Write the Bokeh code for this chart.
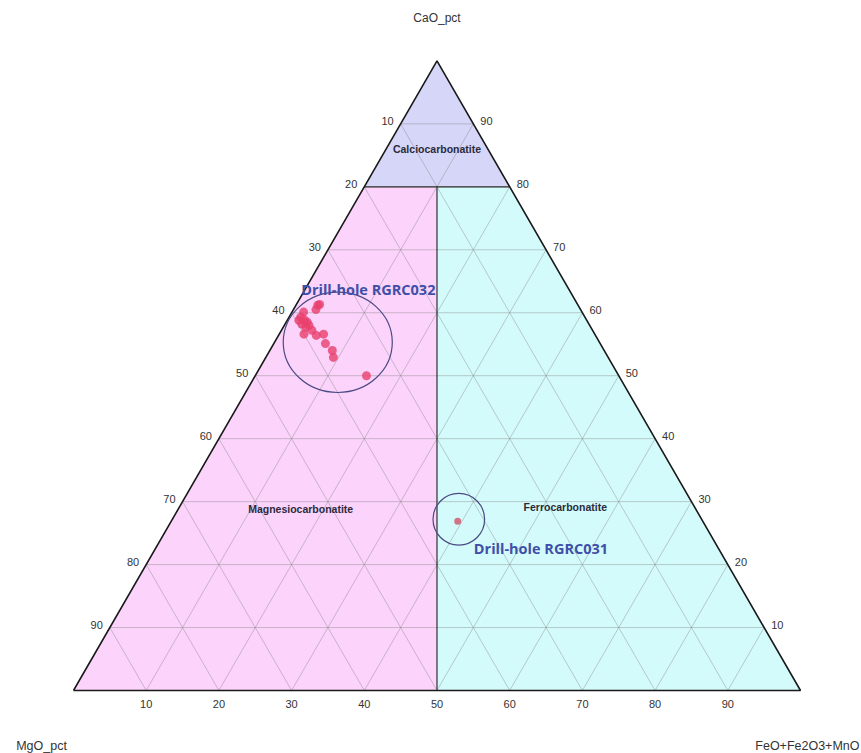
import math
from bokeh.plotting import figure
from bokeh.models import Range1d, ColumnDataSource
from bokeh.core.properties import value
from bokeh.embed import file_html
from bokeh.resources import INLINE

# ---------------- data (ternary %: CaO, MgO, FeO+Fe2O3+MnO) ----------------
rgrc032_cao = [61.2, 60.5, 61.3, 60.1, 59.3, 58.8, 58.5, 58.2, 57.7, 58.0, 57.2, 56.6, 56.4, 56.6, 55.1, 54.0, 52.9, 50.0, 58.8]
rgrc032_feo = [3.0, 3.1, 3.2, 1.6, 1.6, 2.4, 2.9, 2.3, 3.1, 3.4, 4.2, 3.4, 5.2, 6.1, 7.1, 8.6, 9.3, 15.3, 1.6]
rgrc032_mgo = [round(100 - c - f, 1) for c, f in zip(rgrc032_cao, rgrc032_feo)]

rgrc031_cao = [26.9]
rgrc031_feo = [39.4]
rgrc031_mgo = [33.7]

tick_values = [10, 20, 30, 40, 50, 60, 70, 80, 90]

# region boundaries (CaO, FeO)
calcio_cao = [100, 80, 80]
calcio_feo = [0, 0, 20]
magnesio_cao = [0, 0, 80, 80]
magnesio_feo = [0, 50, 10, 0]
ferro_cao = [0, 0, 80, 80]
ferro_feo = [50, 100, 20, 10]

region_names = ["Calciocarbonatite", "Magnesiocarbonatite", "Ferrocarbonatite"]
region_label_cao = [86.0, 28.9, 29.1]
region_label_feo = [7.0, 16.8, 53.1]

hole_names = ["Drill-hole RGRC032", "Drill-hole RGRC031"]
hole_label_cao = [63.7, 22.6]
hole_label_feo = [8.7, 53.0]
hole_circle_cao = [55.3, 27.2]
hole_circle_feo = [8.7, 39.4]
hole_circle_w = [15.0, 7.1]
hole_circle_h = [13.8, 7.1]

H = math.sqrt(3) / 2


def tx(cao, feo):
    return feo + cao / 2.0


def ty(cao):
    return cao * H


S = 7.27  # px per unit
W, HT = 861, 753
p = figure(width=W, height=HT, output_backend="svg", toolbar_location=None,
           x_range=Range1d((0 - 73) / S, (W - 73) / S),
           y_range=Range1d((690 - HT) / S, (690 - 0) / S),
           min_border=0, outline_line_color=None)
p.axis.visible = False
p.grid.visible = False
p.background_fill_color = "white"

# region fills
fills = ["#d6d6f8", "#fbd3fb", "#d4fbfb"]
for cl, fl, col in zip([calcio_cao, magnesio_cao, ferro_cao], [calcio_feo, magnesio_feo, ferro_feo], fills):
    p.patch([tx(c, f) for c, f in zip(cl, fl)], [ty(c) for c in cl], fill_color=col, line_color=None)

# grid lines
gx, gy = [], []
for k in tick_values:
    gx.append([tx(k, 0), tx(k, 100 - k)]); gy.append([ty(k), ty(k)])
    gx.append([tx(100 - k, 0), tx(0, 100 - k)]); gy.append([ty(100 - k), ty(0)])
    gx.append([tx(100 - k, k), tx(0, k)]); gy.append([ty(100 - k), ty(0)])
p.multi_line(gx, gy, line_color="#808080", line_alpha=0.4, line_width=1)

# region boundaries
p.line([tx(80, 0), tx(80, 20)], [ty(80), ty(80)], line_color="#303030", line_width=1.2)
p.line([tx(0, 50), tx(80, 10)], [ty(0), ty(80)], line_color="#303030", line_width=1.2)

# triangle outline
p.line([tx(0, 0), tx(0, 100), tx(100, 0), tx(0, 0)], [ty(0), ty(0), ty(100), ty(0)],
       line_color="#1a1a1a", line_width=1.6)

# tick labels
font = value("Liberation Sans")
tv = [str(v) for v in tick_values]
p.text([tx(100 - v, 0) for v in tick_values], [ty(100 - v) for v in tick_values], text=tv,
       text_align="right", text_baseline="middle", x_offset=-7, y_offset=-3,
       text_font=font, text_font_size="11px", text_color="#333333")
p.text([tx(v, 100 - v) for v in tick_values], [ty(v) for v in tick_values], text=tv,
       text_align="left", text_baseline="middle", x_offset=7, y_offset=-3,
       text_font=font, text_font_size="11px", text_color="#333333")
p.text([tx(0, v) for v in tick_values], [0] * len(tick_values), text=tv,
       text_align="center", text_baseline="middle", y_offset=13,
       text_font=font, text_font_size="11px", text_color="#333333")

# axis titles
p.text([tx(100, 0)], [ty(100)], text=["CaO_pct"], text_align="center", text_baseline="middle",
       y_offset=-43, text_font=font, text_font_size="12px", text_color="#333333")
p.text([tx(0, 0)], [0], text=["MgO_pct"], text_align="center", text_baseline="middle",
       x_offset=-32, y_offset=55, text_font=font, text_font_size="12.5px", text_color="#333333")
p.text([tx(0, 100)], [0], text=["FeO+Fe2O3+MnO"], text_align="right", text_baseline="middle",
       x_offset=59, y_offset=55, text_font=font, text_font_size="12.5px", text_color="#333333")

# region labels
p.text([tx(c, f) for c, f in zip(region_label_cao, region_label_feo)], [ty(c) for c in region_label_cao],
       text=region_names, text_align="center", text_baseline="middle",
       text_font=font, text_font_style="bold", text_font_size="10.5px", text_color="#2a2a3a")

# data points
src32 = ColumnDataSource(dict(x=[tx(c, f) for c, f in zip(rgrc032_cao, rgrc032_feo)],
                              y=[ty(c) for c in rgrc032_cao], mgo=rgrc032_mgo))
p.scatter("x", "y", source=src32, size=9, fill_color="#e8406e", fill_alpha=0.8, line_color=None)
src31 = ColumnDataSource(dict(x=[tx(c, f) for c, f in zip(rgrc031_cao, rgrc031_feo)],
                              y=[ty(c) for c in rgrc031_cao], mgo=rgrc031_mgo))
p.scatter("x", "y", source=src31, size=7, fill_color="#d05a70", fill_alpha=0.85, line_color=None)

# drill-hole circles and labels
p.ellipse([tx(c, f) for c, f in zip(hole_circle_cao, hole_circle_feo)], [ty(c) for c in hole_circle_cao],
          width=hole_circle_w, height=hole_circle_h, fill_alpha=0, line_color="#4a4a82", line_width=1.2)
p.text([tx(c, f) for c, f in zip(hole_label_cao, hole_label_feo)], [ty(c) for c in hole_label_cao],
       text=hole_names, text_align="center", text_baseline="middle",
       text_font=value("Open Sans"), text_font_style="bold", text_font_size="14.5px", text_color="#3f4fa8")

open("out.html", "w").write(file_html(p, INLINE))
